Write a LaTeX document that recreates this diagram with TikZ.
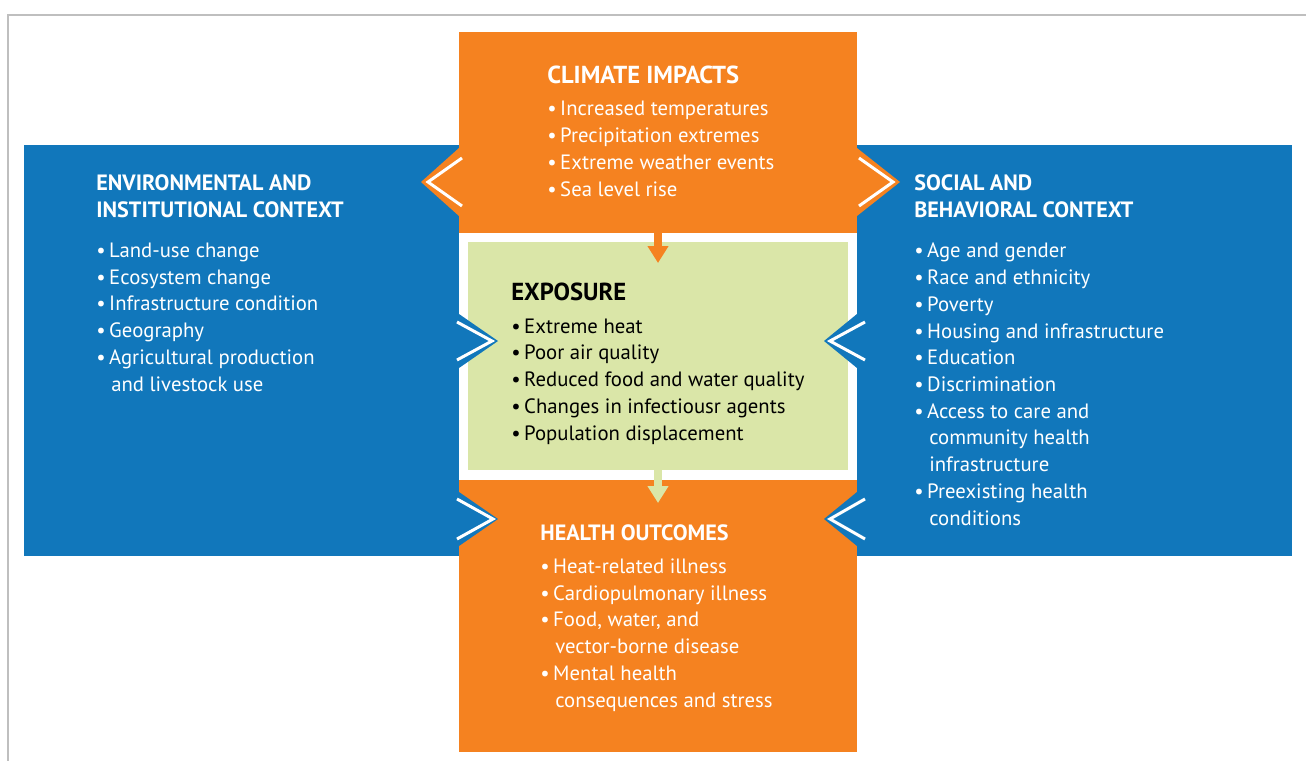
\documentclass[tikz,border=0pt]{standalone}
\usepackage{fontspec}
\setmainfont{PT Sans}
\usepackage{tikz}
\usetikzlibrary{arrows.meta,positioning}
\definecolor{ncablue}{RGB}{17,119,187}
\definecolor{ncaorange}{RGB}{245,130,32}
\definecolor{ncagreen}{RGB}{218,230,168}
\newcommand{\bul}{\textbullet\kern0.17em}
\newcommand{\cont}{\phantom{\bul}\kern0.1em}

\begin{document}
\begin{tikzpicture}[x=0.02cm, y=-0.02cm,
   panel/.style={rectangle, inner sep=0pt, outer sep=0pt},
   heading/.style={anchor=base west, inner sep=0pt, align=left, font=\fontsize{12.6}{15.2}\selectfont\bfseries},
   bigheading/.style={heading, font=\fontsize{14}{15.2}\selectfont\bfseries},
   items/.style={anchor=base west, inner sep=0pt, align=left, font=\fontsize{11.8}{15.2}\selectfont},
   chevron/.style={draw=white, line width=0.06cm},
   flow/.style={line width=0.16cm, -{Triangle[width=0.4cm, length=0.34cm]}}]
   \useasboundingbox (0,0) rectangle (1306,761);
   \draw[black!25, line width=0.04cm] (8,761) -- (8,15) -- (1306,15);
   % panels
   \node[panel, fill=ncablue, minimum width=25.36cm, minimum height=8.22cm] (band) at (658,350.5) {};
   \node[panel, fill=ncaorange, minimum width=7.96cm, minimum height=4.02cm] (impacts) at (658,132.5) {};
   \node[panel, fill=white, minimum width=7.96cm, minimum height=4.94cm] (frame) at (658,356.5) {};
   \node[panel, fill=ncagreen, minimum width=7.62cm, minimum height=4.56cm] (exposure) at (658,356) {};
   \node[panel, fill=ncaorange, minimum width=7.96cm, minimum height=5.44cm] (outcomes) at (658,616) {};
   % chevrons
   \fill[ncaorange] (459,148) -- (421,182) -- (459,216) -- cycle;
   \draw[chevron] (462,158) -- (428,182) -- (462,206);
   \fill[ncaorange] (857,148) -- (900,182) -- (857,216) -- cycle;
   \draw[chevron] (859,158) -- (893,182) -- (859,206);
   \fill[ncablue] (459,314) -- (498,341) -- (459,368) -- cycle;
   \draw[chevron] (457,322) -- (492,341) -- (457,360);
   \fill[ncablue] (857,314) -- (824,341) -- (857,368) -- cycle;
   \draw[chevron] (865,322) -- (830,341) -- (865,360);
   \fill[ncablue] (459,492) -- (498,519) -- (459,546) -- cycle;
   \draw[chevron] (457,499) -- (493,519) -- (457,539);
   \fill[ncablue] (857,492) -- (824,519) -- (857,546) -- cycle;
   \draw[chevron] (865,499) -- (830,519) -- (865,539);
   % arrows
   \coordinate (tip1) at (658,263);
   \coordinate (tip2) at (658,503);
   \draw[flow, ncaorange] (impacts.south) -- (tip1);
   \draw[flow, ncagreen] (exposure.south) -- (tip2);
   % texts (base anchor = last line)
   \node[bigheading, white] (climatehead) at (547,83) {CLIMATE IMPACTS};
   \node[items, white] (climatelist) at (547,196) {\bul Increased temperatures\\
      \bul Precipitation extremes\\
      \bul Extreme weather events\\
      \bul Sea level rise};
   \node[heading, white] (envhead) at (96,217) {ENVIRONMENTAL AND\\INSTITUTIONAL CONTEXT};
   \node[items, white] (envlist) at (96,391) {\bul Land-use change\\
      \bul Ecosystem change\\
      \bul Infrastructure condition\\
      \bul Geography\\
      \bul Agricultural production\\
      \cont and livestock use};
   \node[heading, white] (socialhead) at (914,217) {SOCIAL AND\\BEHAVIORAL CONTEXT};
   \node[items, white] (sociallist) at (914,525) {\bul Age and gender\\
      \bul Race and ethnicity\\
      \bul Poverty\\
      \bul Housing and infrastructure\\
      \bul Education\\
      \bul Discrimination\\
      \bul Access to care and\\
      \cont community health\\
      \cont infrastructure\\
      \bul Preexisting health\\
      \cont conditions};
   \node[bigheading, black] (exphead) at (511,300) {EXPOSURE};
   \node[items, black] (explist) at (511,440) {\bul Extreme heat\\
      \bul Poor air quality\\
      \bul Reduced food and water quality\\
      \bul Changes in infectiousr agents\\
      \bul Population displacement};
   \node[heading, white] (outhead) at (540,540) {HEALTH OUTCOMES};
   \node[items, white] (outlist) at (540,707) {\bul Heat-related illness\\
      \bul Cardiopulmonary illness\\
      \bul Food, water, and\\
      \cont vector-borne disease\\
      \bul Mental health\\
      \cont consequences and stress};
\end{tikzpicture}
\end{document}
